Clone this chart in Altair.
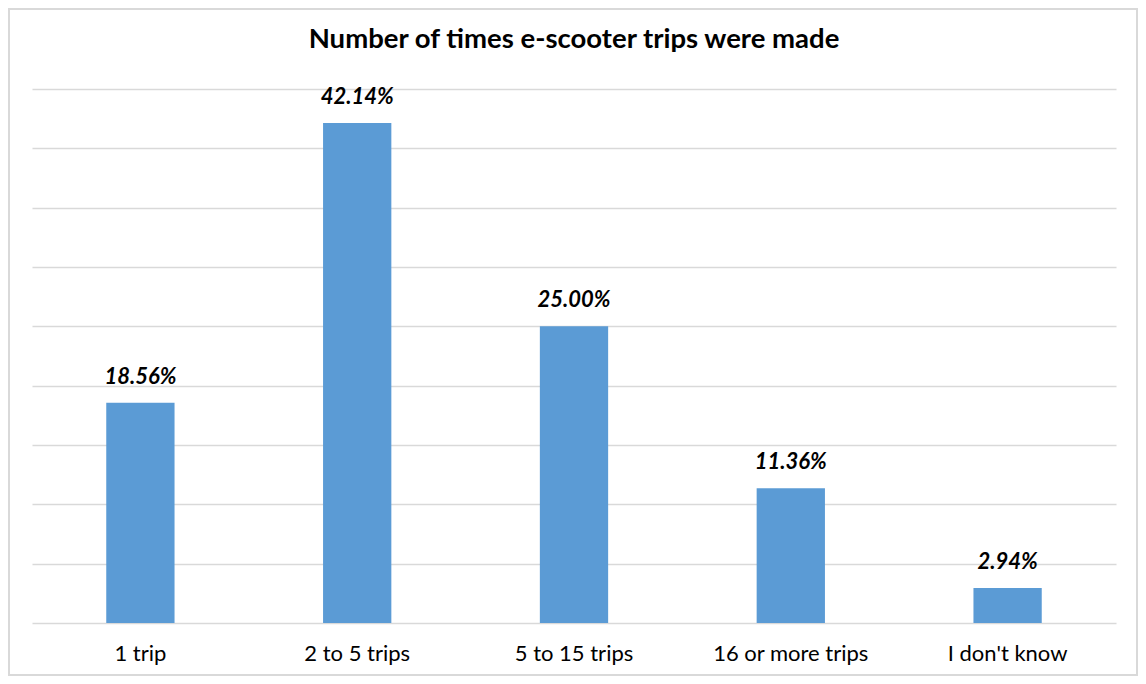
import altair as alt
import pandas as pd

categories = ["1 trip", "2 to 5 trips", "5 to 15 trips", "16 or more trips", "I don't know"]
values = [18.56, 42.14, 25.00, 11.36, 2.94]
labels = ["18.56%", "42.14%", "25.00%", "11.36%", "2.94%"]

df = pd.DataFrame({"cat": categories, "val": values, "lab": labels})

W, H = 1084, 534
FONT = "Lato"

x_enc = alt.X("cat:N", sort=categories, title=None,
              scale=alt.Scale(paddingInner=0.685, paddingOuter=0.3425),
              axis=alt.Axis(labelAngle=0, ticks=False, domain=False, grid=False,
                            labelFont=FONT, labelFontSize=22, labelColor="#000000",
                            labelPadding=20))
y_enc = alt.Y("val:Q", title=None,
              scale=alt.Scale(domain=[0, 45], nice=False),
              axis=alt.Axis(values=[0, 5, 10, 15, 20, 25, 30, 35, 40, 45], labels=False,
                            ticks=False, domain=False, grid=True,
                            gridColor="#D9D9D9", gridWidth=1.5))

bars = alt.Chart(df).mark_bar(color="#5B9BD5").encode(x=x_enc, y=y_enc)

text = alt.Chart(df).mark_text(font=FONT, fontSize=22, fontWeight="bold", fontStyle="italic",
                               color="#000000", baseline="alphabetic", dy=-19).encode(
    x=alt.X("cat:N", sort=categories), y="val:Q", text="lab:N")

border = alt.Chart(df).mark_rect(fill=None, stroke="#D9D9D9", strokeWidth=2, clip=False).encode(
    x=alt.value(-23), x2=alt.value(W + 21), y=alt.value(-80), y2=alt.value(H + 52))

chart = alt.layer(bars, text, border).properties(
    width=W, height=H,
    autosize=alt.AutoSizeParams(type="none"),
    padding={"left": 24, "top": 81, "right": 22, "bottom": 53},
    title=alt.TitleParams("Number of times e-scooter trips were made", font=FONT, fontSize=27.5,
                          fontWeight="bold", color="#000000", anchor="middle",
                          baseline="alphabetic", offset=-67),
).configure(background="white").configure_view(stroke=None)

chart.save("out.html", embed_options={"renderer": "svg", "actions": False})
